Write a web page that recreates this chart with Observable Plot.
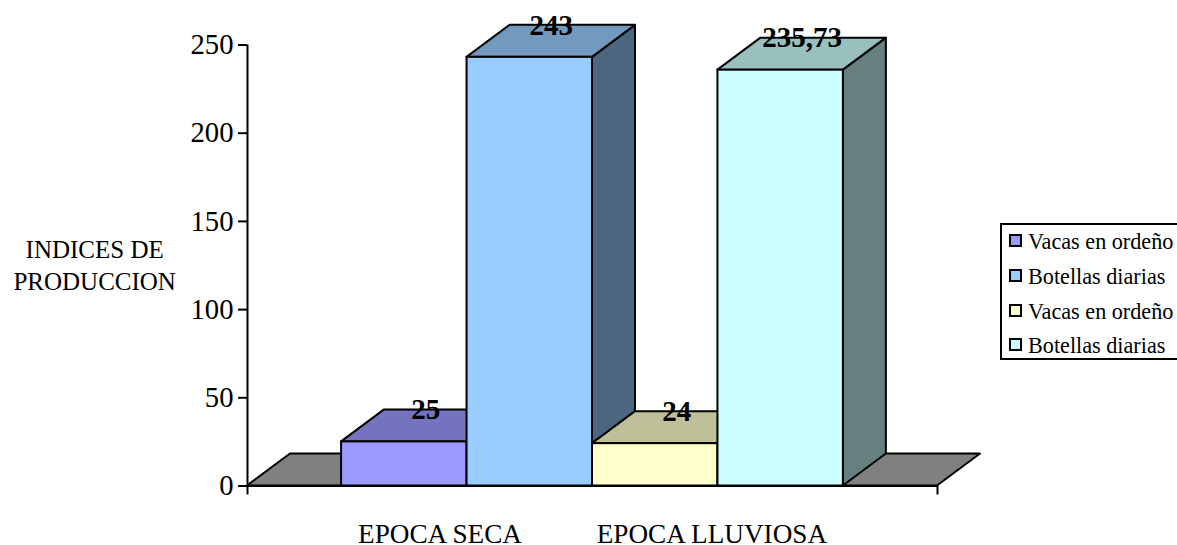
<!DOCTYPE html>
<html lang="es">
<head>
<meta charset="utf-8">
<title>Indices de produccion</title>
<script src="https://cdn.jsdelivr.net/npm/d3@7"></script>
<script src="https://cdn.jsdelivr.net/npm/@observablehq/plot@0.6"></script>
<style>
  html, body { margin: 0; padding: 0; background: #fff; overflow: hidden; }
  #chart { position: relative; width: 1177px; height: 545px; overflow: hidden; font-family: "Liberation Serif", serif; }
  #chart svg { display: block; }
  .legend { position: absolute; left: 1000px; top: 223px; width: 190px; height: 137px; box-sizing: border-box;
            border: 2px solid #000; background: #fff; }
  .legend div { position: absolute; left: 26px; height: 35px; line-height: 35px; font-size: 22.2px; color: #000; white-space: nowrap; }
  .legend i { position: absolute; left: -19px; top: 10px; width: 9px; height: 9px; border: 2px solid #000; }
</style>
</head>
<body>
<div id="chart"></div>
<script>
// Milk production indices by season
const seriesNames = ["Vacas en ordeño", "Botellas diarias", "Vacas en ordeño", "Botellas diarias"];
const seriesValues = [25, 243, 24, 235.73];
const frontColors = ["#9999ff", "#99ccff", "#ffffcc", "#ccffff"];
const topColors = ["#7373bf", "#7399bf", "#bfbf99", "#99bfbf"];
const sideColors = ["#4c4c80", "#4c6680", "#808066", "#668080"];
const seasons = ["EPOCA SECA", "EPOCA LLUVIOSA"];
const seasonCenters = [0.558, 1.346];
const barStarts = [0.2727, 0.6364, 1, 1.3636];
const barWidth = 0.3636;
const yTicks = [0, 50, 100, 150, 200, 250];
const xEdges = [0, 2];

// Oblique projection of the depth axis, in data units
const depthX = 0.1246;
const depthY = 18.14;

const serif = "Liberation Serif";
const line = {stroke: "#000", strokeWidth: 2};

// A face is a band between two edges, each edge swept along the depth axis
const sweep = (x1, x2, y1, y2, fill) => Plot.area(
  [0, 1],
  {
    x1: (t) => x1 + t * depthX,
    x2: (t) => x2 + t * depthX,
    y1: (t) => y1 + t * depthY,
    y2: (t) => y2 + t * depthY,
    fill,
    ...line
  }
);

const bars = seriesValues.flatMap((value, i) => {
  const x0 = barStarts[i];
  const x1 = x0 + barWidth;
  return [
    sweep(x1, x1, 0, value, sideColors[i]),
    sweep(x0, x1, value, value, topColors[i]),
    Plot.rect([value], {x1: x0, x2: x1, y1: 0, y2: value, fill: frontColors[i], ...line})
  ];
});

const valueLabels = seriesValues.map((value, i) => ({
  x: barStarts[i] + (barWidth + depthX) / 2,
  y: value + depthY,
  text: String(value).replace(".", ",")
}));

const plot = Plot.plot({
  width: 1177,
  height: 545,
  marginLeft: 247,
  marginRight: 240,
  marginTop: 44.5,
  marginBottom: 59.5,
  style: {fontFamily: serif, background: "#fff", color: "#000", overflow: "visible"},
  x: {type: "linear", domain: xEdges, axis: null},
  y: {type: "linear", domain: [0, 250], axis: null},
  marks: [
    // Floor
    sweep(xEdges[0], xEdges[1], 0, 0, "#808080"),
    ...bars,
    // Axes
    Plot.ruleX([0], {y1: 0, y2: 250, ...line}),
    Plot.ruleY([0], {x1: xEdges[0], x2: xEdges[1], ...line}),
    Plot.axisY({ticks: yTicks, tickSize: 9, tickPadding: 5, fontSize: 28.7, strokeWidth: 2, label: null, tickFormat: String, anchor: "left"}),
    Plot.axisX({ticks: xEdges, tickSize: 9, tickFormat: () => "", strokeWidth: 2, label: null, anchor: "bottom"}),
    Plot.text(seasons, {x: (d, i) => seasonCenters[i], y: 0, text: (d) => d, dy: 48, fontSize: 27.2, fill: "#000"}),
    Plot.text(["INDICES DE\nPRODUCCION"], {x: -0.443, y: 126, text: (d) => d, fontSize: 25, lineHeight: 1.3, fill: "#000"}),
    // Value labels sit on the back edge of each bar
    Plot.text(valueLabels, {x: "x", y: "y", text: "text", fontSize: 29, fontWeight: "bold", fill: "#000"})
  ]
});

const chart = document.getElementById("chart");
chart.append(plot);

// Legend box, running off the right edge of the page
const legend = d3.select(chart).append("div").attr("class", "legend");
seriesNames.forEach((name, i) => {
  const row = legend.append("div").style("top", `${i * 34.8 - 1}px`).text(name);
  row.append("i").style("background", frontColors[i]);
});
</script>
</body>
</html>
